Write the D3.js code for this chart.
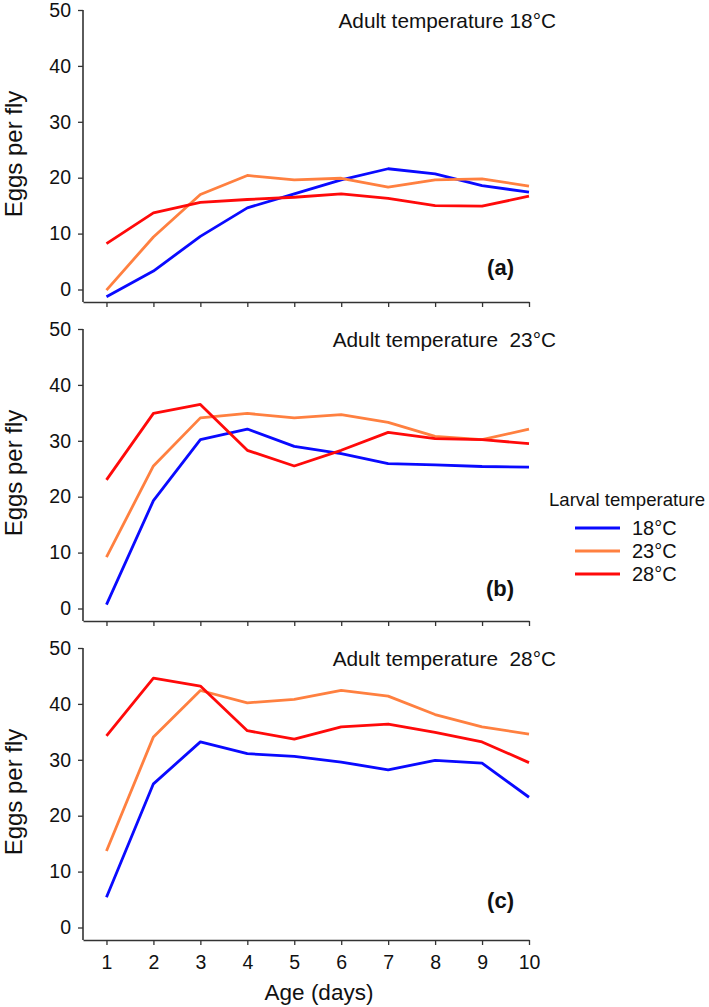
<!DOCTYPE html>
<html>
<head>
<meta charset="utf-8">
<script src="https://cdn.jsdelivr.net/npm/d3@7"></script>
<style>
  html, body { margin: 0; padding: 0; background: #fff; }
  svg { display: block; font-family: "Liberation Sans", Arial, sans-serif; }
</style>
</head>
<body>
<svg id="chart" width="709" height="1007"></svg>
<script>
// ---- Data ----
const days = [1, 2, 3, 4, 5, 6, 7, 8, 9, 10];
const larvalTemps = ["18°C", "23°C", "28°C"];
const panelTitles = ["Adult temperature 18°C", "Adult temperature  23°C", "Adult temperature  28°C"];
const panelLabels = ["(a)", "(b)", "(c)"];
const yTicks = [0, 10, 20, 30, 40, 50];

// Adult 18°C
const a_L18 = [-1.3, 3.3, 9.5, 14.6, 17.1, 19.6, 21.6, 20.7, 18.6, 17.4];
const a_L23 = [-0.1, 9.4, 17.0, 20.4, 19.6, 19.9, 18.3, 19.6, 19.8, 18.5];
const a_L28 = [8.2, 13.7, 15.6, 16.1, 16.5, 17.1, 16.3, 15.0, 14.9, 16.7];
// Adult 23°C
const b_L18 = [0.7, 19.3, 30.2, 32.1, 29.0, 27.7, 25.9, 25.7, 25.4, 25.3];
const b_L23 = [9.2, 25.5, 34.1, 34.9, 34.1, 34.7, 33.3, 30.8, 30.2, 32.1];
const b_L28 = [23.0, 34.9, 36.5, 28.3, 25.5, 28.3, 31.5, 30.4, 30.2, 29.5];
// Adult 28°C
const c_L18 = [5.4, 25.7, 33.2, 31.1, 30.6, 29.6, 28.2, 29.9, 29.4, 23.3];
const c_L23 = [13.7, 34.1, 42.4, 40.2, 40.8, 42.4, 41.4, 38.1, 35.9, 34.6];
const c_L28 = [34.3, 44.6, 43.2, 35.2, 33.7, 35.9, 36.4, 34.9, 33.2, 29.5];

const panelSeries = [
  [a_L18, a_L23, a_L28],
  [b_L18, b_L23, b_L28],
  [c_L18, c_L23, c_L28]
];

// ---- Styles / layout ----
const colors = ["#0a0aff", "#ff8040", "#ff0a0a"];
const axisColor = "#333";
const textColor = "#111";
const left = 83, right = 529;
const panelStep = 319, firstTop = 10, plotH = 279.5;
const labelOffsets = [15, 13, 20];

const svg = d3.select("#chart");
const x = d3.scaleLinear().domain([0.5, 10]).range([left, right]);

panelSeries.forEach((series, i) => {
  const top = firstTop + i * panelStep;
  const zero = top + plotH;
  const axisY = zero + 12.5;
  const y = d3.scaleLinear().domain([0, 50]).range([zero, top]);
  const g = svg.append("g");

  // y axis
  const ya = g.append("g").attr("transform", `translate(${left},0)`)
    .call(d3.axisLeft(y).tickValues(yTicks).tickSize(5).tickPadding(7).tickSizeOuter(0));
  ya.select(".domain").remove();
  ya.selectAll("line").attr("stroke", axisColor).attr("stroke-width", 1.3);
  ya.selectAll("text").attr("font-size", 19.5).attr("fill", textColor)
    .attr("font-family", "Liberation Sans, Arial, sans-serif");
  g.append("line").attr("x1", left).attr("x2", left).attr("y1", top).attr("y2", axisY)
    .attr("stroke", axisColor).attr("stroke-width", 1.6);

  // x axis
  const xa = g.append("g").attr("transform", `translate(0,${axisY})`)
    .call(d3.axisBottom(x).tickValues(days).tickSize(5).tickPadding(10).tickSizeOuter(0));
  xa.select(".domain").attr("stroke", axisColor).attr("stroke-width", 1.6);
  xa.selectAll("line").attr("stroke", axisColor).attr("stroke-width", 1.3);
  xa.selectAll("text").attr("font-size", 19.5).attr("fill", textColor)
    .attr("font-family", "Liberation Sans, Arial, sans-serif");
  if (i < 2) xa.selectAll("text").remove();

  // lines
  const line = d3.line().x((d, k) => x(days[k])).y(d => y(d));
  series.forEach((vals, s) => {
    g.append("path").datum(vals)
      .attr("d", line)
      .attr("fill", "none")
      .attr("stroke", colors[s])
      .attr("stroke-width", 2.8)
      .attr("stroke-linejoin", "round");
  });

  // titles
  g.append("text").attr("x", 556).attr("y", top + 18)
    .attr("text-anchor", "end").attr("font-size", 20.8).attr("fill", textColor)
    .attr("xml:space", "preserve").style("white-space", "pre")
    .text(panelTitles[i]);
  g.append("text").attr("x", 514).attr("y", zero - labelOffsets[i])
    .attr("text-anchor", "end").attr("font-size", 22).attr("font-weight", "bold")
    .attr("fill", textColor).text(panelLabels[i]);

  // y axis title
  g.append("text")
    .attr("transform", `translate(22,${top + 144}) rotate(-90)`)
    .attr("text-anchor", "middle").attr("font-size", 24).attr("fill", textColor)
    .text("Eggs per fly");
});

// x axis title
svg.append("text").attr("x", 319).attr("y", 1000)
  .attr("text-anchor", "middle").attr("font-size", 22.5).attr("fill", textColor)
  .text("Age (days)");

// legend
const lg = svg.append("g");
lg.append("text").attr("x", 549).attr("y", 506).attr("font-size", 18.6)
  .attr("fill", textColor).text("Larval temperature");
larvalTemps.forEach((t, s) => {
  const ly = 528 + s * 23;
  lg.append("line").attr("x1", 575).attr("x2", 620).attr("y1", ly).attr("y2", ly)
    .attr("stroke", colors[s]).attr("stroke-width", 2.8);
  lg.append("text").attr("x", 632).attr("y", ly + 7).attr("font-size", 20)
    .attr("fill", textColor).text(t);
});
</script>
</body>
</html>
